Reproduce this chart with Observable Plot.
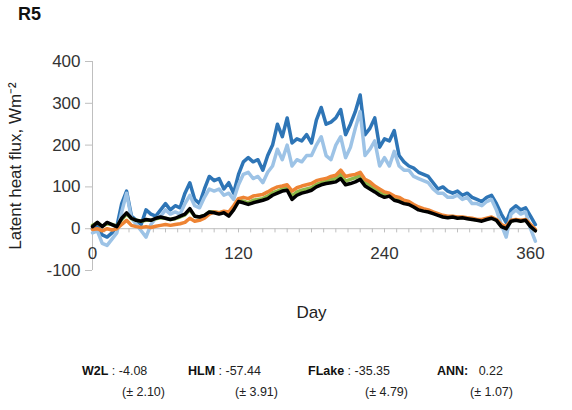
<!DOCTYPE html>
<html>
<head>
<meta charset="utf-8">
<script src="https://cdn.jsdelivr.net/npm/d3@7"></script>
<script src="https://cdn.jsdelivr.net/npm/@observablehq/plot@0.6"></script>
<style>
  body { margin: 0; background: #fff; font-family: "Liberation Sans", Arial, sans-serif; }
  #wrap { position: relative; width: 572px; height: 410px; overflow: hidden; }
  #title { position: absolute; left: 18px; top: 4px; font: bold 18px "Liberation Sans", Arial, sans-serif; color: #111; }
  .cap { position: absolute; font-size: 12.5px; color: #222; white-space: pre; }
  .cap b { color: #111; }
</style>
</head>
<body>
<div id="wrap">
  <div id="chart"></div>
  <div id="title">R5</div>
  <div id="caption"></div>
</div>
<script>
// Day of year for each sample
const days = d3.range(0, 365, 4);

// HLM (dark blue)
const hlm = [0,5,-15,-20,-10,5,60,90,30,20,10,45,35,30,45,60,45,55,50,85,110,70,60,95,125,115,120,95,110,85,
  130,160,170,160,165,140,175,200,250,220,265,205,215,210,225,205,260,290,250,255,265,285,225,250,280,320,225,240,265,195,
  215,210,235,175,160,150,145,135,130,125,110,95,100,90,85,90,80,85,75,70,65,75,80,60,35,15,45,55,45,50,30,10];
// FLake (light blue)
const flake = [-10,-5,-35,-40,-25,-10,40,85,25,10,-5,-20,10,25,30,45,35,40,35,60,80,55,50,75,95,90,95,80,85,70,
  105,130,135,120,125,110,135,150,190,165,200,150,165,160,175,175,200,220,175,165,200,220,170,195,240,280,175,190,210,150,
  170,150,185,150,140,140,125,120,115,110,95,85,85,75,75,80,70,75,60,60,55,65,70,45,10,-20,35,45,35,40,0,-30];
// Observed (black)
const observed = [5,15,5,15,10,5,25,38,25,20,18,22,20,25,28,25,22,25,30,35,48,30,28,32,40,38,35,38,30,45,
  65,62,58,62,65,68,72,80,85,90,92,70,80,85,88,92,100,105,108,110,112,120,105,108,112,118,102,95,88,80,
  75,78,68,65,60,58,52,45,42,40,36,32,28,26,28,25,26,24,22,20,18,22,25,20,5,0,18,20,18,20,5,-5];
// W2L (orange)
const w2l = [-2,0,-5,0,-3,0,10,20,8,5,3,5,3,6,8,10,8,10,12,15,25,18,20,25,35,40,38,42,40,55,
  72,75,72,78,80,82,88,95,100,102,105,90,98,102,105,108,115,118,120,125,128,140,125,128,130,135,118,112,102,95,
  88,85,78,75,68,65,58,52,48,45,40,36,32,30,30,28,28,26,25,22,22,25,28,22,10,5,20,22,20,22,10,-2];
// ANN (green)
const ann = [8,14,6,12,10,6,22,35,24,20,18,20,20,24,26,25,22,24,28,33,45,30,28,32,40,40,38,40,35,50,
  68,66,62,68,70,72,78,86,90,95,98,78,88,92,95,98,106,110,114,117,120,130,114,118,122,128,110,104,96,88,
  82,82,74,70,64,62,55,48,45,42,38,34,30,28,29,27,27,25,23,21,20,23,26,21,7,2,19,21,19,21,7,-4];

const xTickLabels = [0, 120, 240, 360];
const yTickValues = [-100, 0, 100, 200, 300, 400];
const minorDays = d3.range(0, 361, 10);

const models = ["W2L", "HLM", "FLake", "ANN"];
const bias = ["-4.08", "-57.44", "-35.35", "0.22"];
const biasSd = ["2.10", "3.91", "4.79", "1.07"];

const seriesDefs = [
  {name: "HLM", values: hlm, color: "#2E75B6"},
  {name: "FLake", values: flake, color: "#9DC3E6"},
  {name: "ANN", values: ann, color: "#8DB84A"},
  {name: "W2L", values: w2l, color: "#EE8434"},
  {name: "Observed", values: observed, color: "#000000"}
];
const rows = seriesDefs.flatMap(s => s.values.map((v, i) => ({series: s.name, day: days[i], value: v})));

const chart = Plot.plot({
  width: 572,
  height: 345,
  marginLeft: 92,
  marginRight: 42,
  marginTop: 61,
  marginBottom: 75,
  style: {fontFamily: "'Liberation Sans', Arial, sans-serif", color: "#333"},
  x: {domain: [0, 360], axis: null},
  y: {domain: [-100, 400], axis: null},
  marks: [
    Plot.ruleX([0], {y1: -100, y2: 400, stroke: "#bfbfbf", strokeWidth: 1}),
    Plot.axisY(yTickValues, {anchor: "left", label: null, tickSize: 7, tickPadding: 5, fontSize: 17,
      stroke: "#bfbfbf", fill: "#333", tickFormat: d => String(d)}),
    Plot.ruleY([0], {x1: 0, x2: 360, stroke: "#bfbfbf", strokeWidth: 1}),
    Plot.ruleX(minorDays, {y1: 0, y2: -10, stroke: "#bfbfbf"}),
    Plot.text(xTickLabels, {x: d => d, y: 0, dy: 25, fontSize: 17, fill: "#333", text: d => String(d)}),
    ...seriesDefs.map(s => Plot.line(rows.filter(r => r.series === s.name), {
      x: "day", y: "value", stroke: s.color, strokeWidth: 3.5, curve: "linear", strokeLinejoin: "round"
    })),
    Plot.text(["Day"], {frameAnchor: "bottom", dy: 47, fontSize: 17, fill: "#222"}),
    Plot.text(["Latent heat flux, Wm\u207B\u00B2"], {frameAnchor: "left", textAnchor: "middle", rotate: -90, dx: -77, fontSize: 17, fill: "#222"})
  ]
});
document.getElementById("chart").appendChild(chart);

// caption
const cap = document.getElementById("caption");
const line1X = [82, 188, 308, 437];
const line2X = [122, 235, 365, 470];
models.forEach((m, i) => {
  const a = document.createElement("div");
  a.className = "cap";
  a.style.left = line1X[i] + "px";
  a.style.top = "364px";
  a.innerHTML = m === "ANN" ? `<b>${m}:</b>   ${bias[i]}` : `<b>${m}</b> : ${bias[i]}`;
  cap.appendChild(a);
  const b = document.createElement("div");
  b.className = "cap";
  b.style.left = line2X[i] + "px";
  b.style.top = "385px";
  b.textContent = `(\u00B1 ${biasSd[i]})`;
  cap.appendChild(b);
});
</script>
</body>
</html>
